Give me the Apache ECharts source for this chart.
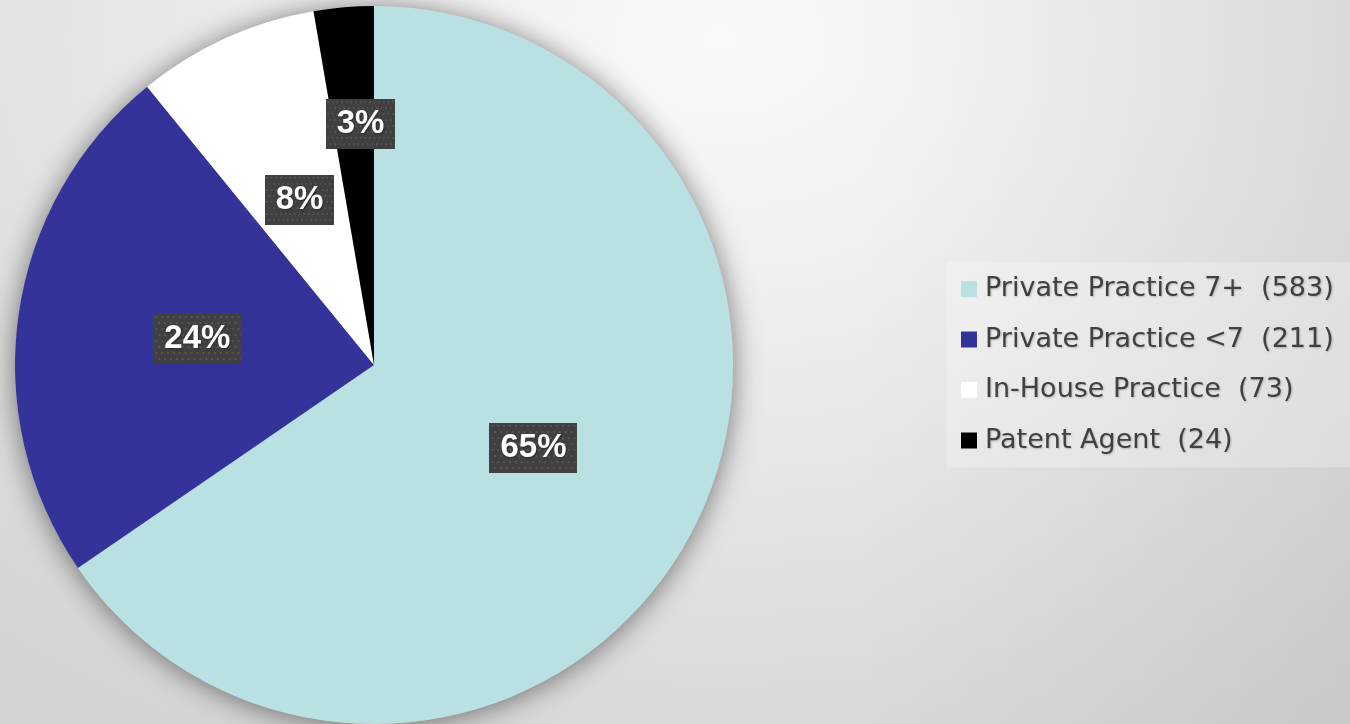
<!DOCTYPE html>
<html>
<head>
<meta charset="utf-8">
<script src="https://cdn.jsdelivr.net/npm/echarts@6/dist/echarts.min.js"></script>
<style>
html,body{margin:0;padding:0;width:1350px;height:724px;overflow:hidden;}
body{background:
  linear-gradient(to right, rgba(0,0,0,0) 0px, rgba(0,0,0,0) 850px, rgba(0,0,0,0.05) 1350px),
  radial-gradient(ellipse 1150px 800px at 720px 40px,#f9f9f9 0%,#f0f0f0 28%,#e4e4e4 58%,#dadada 82%,#d3d3d3 100%);}
#chart{width:1350px;height:724px;}
</style>
</head>
<body>
<div id="chart"></div>
<script>
const categories = ['Private Practice 7+', 'Private Practice <7', 'In-House Practice', 'Patent Agent'];
const counts = [583, 211, 73, 24];
const colors = ['#B9E0E3', '#333399', '#FFFFFF', '#000000'];

function makePattern(w, h) {
  const c = document.createElement('canvas');
  c.width = w; c.height = h;
  const g = c.getContext('2d');
  g.fillStyle = '#404040';
  g.fillRect(0, 0, w, h);
  g.fillStyle = '#565656';
  for (let y = 2; y < h; y += 6) {
    for (let x = (Math.floor(y / 6) % 2) ? 5 : 2; x < w; x += 6) {
      g.fillRect(x, y, 2, 2);
    }
  }
  return c;
}
const pattern = makePattern(90, 50);

const chart = echarts.init(document.getElementById('chart'), null, {renderer: 'canvas'});
const pieData = categories.map((n, i) => ({name: n, value: counts[i], itemStyle: {color: colors[i]}}));

chart.setOption({
  backgroundColor: 'transparent',
  animation: false,
  legend: {
    orient: 'vertical',
    left: 947,
    top: 262,
    padding: [12, 40, 12, 14],
    backgroundColor: 'rgba(255,255,255,0.25)',
    itemWidth: 16,
    itemHeight: 16,
    itemGap: 20.5,
    icon: 'rect',
    data: categories,
    formatter: function (name) {
      const i = categories.indexOf(name);
      return name + '  (' + counts[i] + ')';
    },
    textStyle: {
      color: '#404040',
      fontSize: 27,
      fontFamily: "'DejaVu Sans', sans-serif",
      lineHeight: 30,
      padding: [0, 0, 0, 3],
      textShadowColor: 'rgba(0,0,0,0.22)',
      textShadowBlur: 2,
      textShadowOffsetX: 1,
      textShadowOffsetY: 1
    }
  },
  series: [
    {
      type: 'pie',
      silent: true,
      center: [374, 365],
      radius: [0, 359],
      label: {show: false},
      labelLine: {show: false},
      data: [{value: 1, name: '__shadow', itemStyle: {color: '#cccccc', shadowColor: 'rgba(0,0,0,0.5)', shadowBlur: 28, shadowOffsetX: 0, shadowOffsetY: 2}}],
      z: 1
    },
    {
      type: 'pie',
      center: [374, 365],
      radius: [0, 359],
      startAngle: 90,
      clockwise: true,
      z: 2,
      itemStyle: {borderWidth: 0},
      emphasis: {disabled: true},
      data: pieData,
      label: {
        show: true,
        position: 'inside',
        formatter: function (p) { return Math.round(p.percent) + '%'; },
        color: '#ffffff',
        fontSize: 33,
        fontWeight: 'bold',
        fontFamily: "'Liberation Sans', Arial, sans-serif",
        backgroundColor: {image: pattern},
        padding: [8, 11, 4, 11],
        lineHeight: 38,
        textShadowColor: 'rgba(0,0,0,0.35)',
        textShadowBlur: 2,
        textShadowOffsetX: 1,
        textShadowOffsetY: 1,
        shadowColor: 'rgba(0,0,0,0.55)',
        shadowBlur: 5,
        shadowOffsetX: 3,
        shadowOffsetY: 3
      },
      labelLine: {show: false},
      labelLayout: function (params) {
        if (params.dataIndex === 3) return {dx: 2, dy: -59};
        if (params.dataIndex === 1) return {dx: 4, dy: 0};
        if (params.dataIndex === 0) return {dx: -2, dy: -2};
        if (params.dataIndex === 2) return {dx: 1, dy: 1};
        return {};
      }
    }
  ]
});
</script>
</body>
</html>
